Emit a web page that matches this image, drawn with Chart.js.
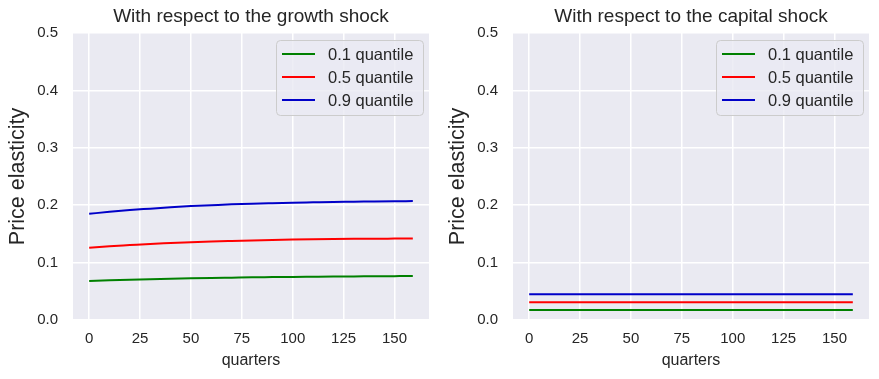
<!DOCTYPE html>
<html>
<head>
<meta charset="utf-8">
<script src="https://cdn.jsdelivr.net/npm/chart.js@4.4.0/dist/chart.umd.min.js"></script>
<style>
  html, body { margin: 0; padding: 0; background: #ffffff; }
  #wrap { position: relative; width: 879px; height: 379px; }
  .c { position: absolute; top: 0; width: 440px; height: 379px; }
</style>
</head>
<body>
<div id="wrap">
  <div class="c" style="left:0px"><canvas id="left"></canvas></div>
  <div class="c" style="left:440px"><canvas id="right"></canvas></div>
</div>
<script>
// ---- data ----
const quarters = [0, 10, 20, 30, 40, 50, 60, 70, 80, 90, 100, 110, 120, 130, 140, 150, 159];
const growthQ10 = [0.068, 0.0692, 0.0703, 0.0712, 0.072, 0.0727, 0.0733, 0.0738, 0.0743, 0.0747, 0.0751, 0.0754, 0.0757, 0.0759, 0.0762, 0.0764, 0.0766];
const growthQ50 = [0.126, 0.1285, 0.1305, 0.1325, 0.134, 0.1355, 0.1368, 0.1378, 0.1387, 0.1395, 0.1402, 0.1407, 0.1411, 0.1414, 0.1416, 0.1418, 0.142];
const growthQ90 = [0.185, 0.1885, 0.1915, 0.194, 0.1965, 0.1985, 0.2, 0.2015, 0.2027, 0.2036, 0.2044, 0.205, 0.2056, 0.206, 0.2065, 0.2069, 0.2072];
const capitalQuarters = [0, 159];
const capitalQ10 = [0.0175, 0.0175];
const capitalQ50 = [0.031, 0.031];
const capitalQ90 = [0.045, 0.045];
const seriesLabels = ['0.1 quantile', '0.5 quantile', '0.9 quantile'];
const xTicks = [0, 25, 50, 75, 100, 125, 150];
const yTicks = [0.0, 0.1, 0.2, 0.3, 0.4, 0.5];
const titles = ['With respect to the growth shock', 'With respect to the capital shock'];
const xTitle = 'quarters';
const yTitle = 'Price elasticity';

const colors = ['#008000', '#ff0000', '#0000c8'];
const FONT = 'Arial, "Liberation Sans", Helvetica, sans-serif';
const TXT = '#262626';

const bgPlugin = {
  id: 'bg',
  beforeDraw(chart) {
    const {ctx, chartArea: a} = chart;
    ctx.save();
    ctx.fillStyle = '#eaeaf2';
    ctx.fillRect(a.left, a.top, a.right - a.left, a.bottom - a.top);
    ctx.restore();
  }
};

const titlePlugin = {
  id: 'axTitle',
  afterDraw(chart) {
    const {ctx, chartArea: a} = chart;
    const t = chart.options.plugins.axTitle.text;
    ctx.save();
    ctx.font = '19px ' + FONT;
    ctx.fillStyle = TXT;
    ctx.textAlign = 'center';
    ctx.textBaseline = 'middle';
    ctx.fillText(t, (a.left + a.right) / 2, 17);
    ctx.restore();
  }
};

const legendPlugin = {
  id: 'mplLegend',
  afterDatasetsDraw(chart) {
    const {ctx, chartArea: a} = chart;
    const w = 147, h = 75;
    const x = a.right - 6 - w, y = a.top + 7;
    ctx.save();
    ctx.beginPath();
    if (ctx.roundRect) ctx.roundRect(x + 0.5, y + 0.5, w, h, 4); else ctx.rect(x + 0.5, y + 0.5, w, h);
    ctx.fillStyle = 'rgba(234,234,242,0.8)';
    ctx.fill();
    ctx.strokeStyle = '#cccccc';
    ctx.lineWidth = 1;
    ctx.stroke();
    ctx.font = '16.5px ' + FONT;
    ctx.textBaseline = 'middle';
    ctx.fillStyle = TXT;
    chart.data.datasets.forEach((ds, i) => {
      const cy = y + 14 + i * 23;
      ctx.beginPath();
      ctx.strokeStyle = ds.borderColor;
      ctx.lineWidth = 2;
      ctx.moveTo(x + 6, cy);
      ctx.lineTo(x + 39, cy);
      ctx.stroke();
      ctx.fillText(ds.label, x + 52, cy + 1);
    });
    ctx.restore();
  }
};

function makeChart(id, title, xs, series) {
  const datasets = series.map((vals, i) => ({
    label: seriesLabels[i],
    data: xs.map((q, j) => ({x: q, y: vals[j]})),
    borderColor: colors[i],
    backgroundColor: colors[i],
    borderWidth: 2,
    pointRadius: 0,
    cubicInterpolationMode: 'monotone',
    fill: false
  }));
  return new Chart(document.getElementById(id), {
    type: 'line',
    data: {datasets},
    plugins: [bgPlugin, legendPlugin, titlePlugin],
    options: {
      responsive: true,
      maintainAspectRatio: false,
      animation: false,
      layout: {padding: {left: 0, right: 11, top: 33, bottom: 0}},
      plugins: {
        legend: {display: false},
        tooltip: {enabled: false},
        title: {display: false},
        axTitle: {text: title}
      },
      scales: {
        x: {
          type: 'linear',
          min: -7.95,
          max: 166.95,
          afterBuildTicks: s => { s.ticks = xTicks.map(v => ({value: v})); },
          afterFit: s => { s.height = 59; },
          grid: {color: '#ffffff', lineWidth: 1.5, drawTicks: false},
          border: {display: false},
          ticks: {color: TXT, font: {family: FONT, size: 15}, padding: 10, maxRotation: 0, autoSkip: false,
                  callback: v => String(v)},
          title: {display: true, text: xTitle, color: TXT, font: {family: FONT, size: 16}, padding: {top: 0, bottom: 9}}
        },
        y: {
          min: 0,
          max: 0.5,
          afterBuildTicks: s => { s.ticks = yTicks.map(v => ({value: v})); },
          afterFit: s => { s.width = 73; },
          grid: {color: '#ffffff', lineWidth: 1.5, drawTicks: false},
          border: {display: false},
          ticks: {color: TXT, font: {family: FONT, size: 15}, padding: 15, callback: v => v.toFixed(1)},
          title: {display: true, text: yTitle, color: TXT, font: {family: FONT, size: 21.5}, padding: {top: 5, bottom: 0}}
        }
      }
    }
  });
}

makeChart('left', titles[0], quarters, [growthQ10, growthQ50, growthQ90]);
makeChart('right', titles[1], capitalQuarters, [capitalQ10, capitalQ50, capitalQ90]);
</script>
</body>
</html>
